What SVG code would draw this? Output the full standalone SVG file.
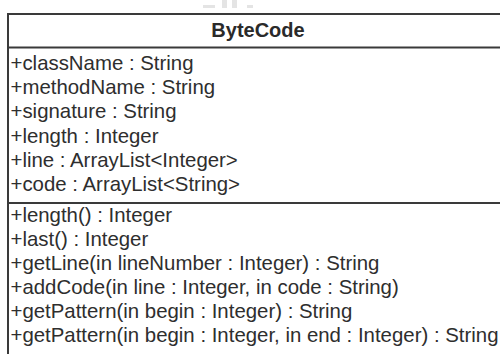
<svg xmlns="http://www.w3.org/2000/svg" width="500" height="354" viewBox="0 0 500 354">
  <style>
    .frame { fill: #ffffff; stroke: #3a3a3a; stroke-width: 2; }
    .rule { stroke: #3a3a3a; stroke-width: 2; }
    .title { font-family: "Liberation Sans", Arial, sans-serif; font-size: 20px; font-weight: bold; fill: #2a2a2a; text-anchor: middle; }
    .member { font-family: "Liberation Sans", Arial, sans-serif; font-size: 20.4px; fill: #2e2e2e; }
    .mark { fill: #e4e4e4; }
  </style>
  <rect width="500" height="354" fill="#ffffff"/>
  <!-- faint marks above the class box -->
  <g id="marks">
    <rect class="mark" x="203" y="5" width="12" height="3"/>
    <rect class="mark" x="222" y="0" width="5" height="8"/>
    <rect class="mark" x="232" y="0" width="5" height="8"/>
    <rect class="mark" x="247" y="5" width="6" height="3"/>
  </g>
  <g id="ByteCode">
    <rect class="frame" x="8" y="14" width="504" height="360"/>
    <line class="rule" x1="8" y1="47.5" x2="512" y2="47.5"/>
    <line class="rule" x1="8" y1="203" x2="512" y2="203"/>
    <text class="title" x="258" y="37">ByteCode</text>
    <g id="attributes">
      <text class="member" x="10.5" y="70">+className : String</text>
      <text class="member" x="10.5" y="94.2">+methodName : String</text>
      <text class="member" x="10.5" y="118.4">+signature : String</text>
      <text class="member" x="10.5" y="142.6">+length : Integer</text>
      <text class="member" x="10.5" y="166.8">+line : ArrayList&lt;Integer&gt;</text>
      <text class="member" x="10.5" y="191">+code : ArrayList&lt;String&gt;</text>
    </g>
    <g id="operations">
      <text class="member" x="10.5" y="222">+length() : Integer</text>
      <text class="member" x="10.5" y="246">+last() : Integer</text>
      <text class="member" x="10.5" y="270">+getLine(in lineNumber : Integer) : String</text>
      <text class="member" x="10.5" y="294">+addCode(in line : Integer, in code : String)</text>
      <text class="member" x="10.5" y="318">+getPattern(in begin : Integer) : String</text>
      <text class="member" x="10.5" y="342">+getPattern(in begin : Integer, in end : Integer) : String</text>
    </g>
  </g>
  <g id="connectors"/>
</svg>
